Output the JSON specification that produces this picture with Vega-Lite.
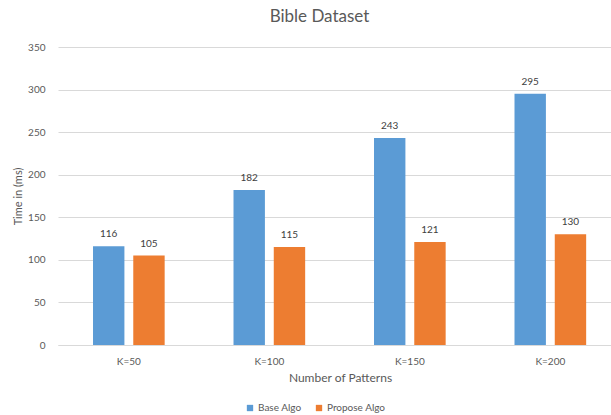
{
  "$schema": "https://vega.github.io/schema/vega-lite/v6.json",
  "autosize": {"type": "none"},
  "width": 553,
  "height": 298,
  "padding": {"left": 58, "top": 47, "right": 0, "bottom": 70},
  "background": "white",
  "config": {
    "font": "Lato",
    "view": {"stroke": null},
    "axis": {"labelFont": "Lato", "titleFont": "Lato", "labelColor": "#595959", "titleColor": "#595959"}
  },
  "title": {
    "text": "Bible Dataset",
    "fontSize": 17,
    "fontWeight": "normal",
    "color": "#595959",
    "anchor": "middle",
    "frame": "group",
    "dx": -15,
    "offset": 16
  },
  "data": {
    "values": [
      {"k": "K=50", "algo": "Base Algo", "time": 116},
      {"k": "K=50", "algo": "Propose Algo", "time": 105},
      {"k": "K=100", "algo": "Base Algo", "time": 182},
      {"k": "K=100", "algo": "Propose Algo", "time": 115},
      {"k": "K=150", "algo": "Base Algo", "time": 243},
      {"k": "K=150", "algo": "Propose Algo", "time": 121},
      {"k": "K=200", "algo": "Base Algo", "time": 295},
      {"k": "K=200", "algo": "Propose Algo", "time": 130}
    ]
  },
  "encoding": {
    "x": {
      "field": "k",
      "type": "nominal",
      "sort": ["K=50", "K=100", "K=150", "K=200"],
      "scale": {"paddingInner": 0.49, "paddingOuter": 0.213, "align": 0.585},
      "axis": {
        "title": "Number of Patterns",
        "labelAngle": 0,
        "labelFontSize": 10,
        "labelPadding": 11,
        "ticks": false,
        "domainColor": "#d9d9d9",
        "titleFontSize": 12,
        "titleFontWeight": "normal",
        "titlePadding": 6,
        "titleX": 282
      }
    },
    "xOffset": {
      "field": "algo",
      "type": "nominal",
      "scale": {"paddingInner": 0.22, "paddingOuter": 0}
    },
    "y": {
      "field": "time",
      "type": "quantitative",
      "scale": {"domain": [0, 350]},
      "axis": {
        "title": "Time in (ms)",
        "values": [0, 50, 100, 150, 200, 250, 300, 350],
        "labelFontSize": 10,
        "labelPadding": 13,
        "ticks": false,
        "domain": false,
        "gridColor": "#d9d9d9",
        "titleFontSize": 11,
        "titleFontWeight": "normal",
        "titlePadding": 4
      }
    }
  },
  "layer": [
    {
      "mark": {"type": "bar"},
      "encoding": {
        "color": {
          "field": "algo",
          "type": "nominal",
          "scale": {"domain": ["Base Algo", "Propose Algo"], "range": ["#5B9BD5", "#ED7D31"]},
          "legend": {
            "title": null,
            "orient": "none",
            "direction": "horizontal",
            "legendX": 187,
            "legendY": 356,
            "symbolType": "square",
            "symbolSize": 40,
            "symbolStrokeWidth": 0,
            "labelFontSize": 10,
            "labelColor": "#595959",
            "labelFont": "Lato",
            "columnPadding": 12,
            "labelOffset": 3
          }
        }
      }
    },
    {
      "mark": {"type": "text", "dy": -7, "fontSize": 10, "color": "#404040", "baseline": "bottom"},
      "encoding": {
        "text": {"field": "time", "type": "quantitative"}
      }
    }
  ]
}
